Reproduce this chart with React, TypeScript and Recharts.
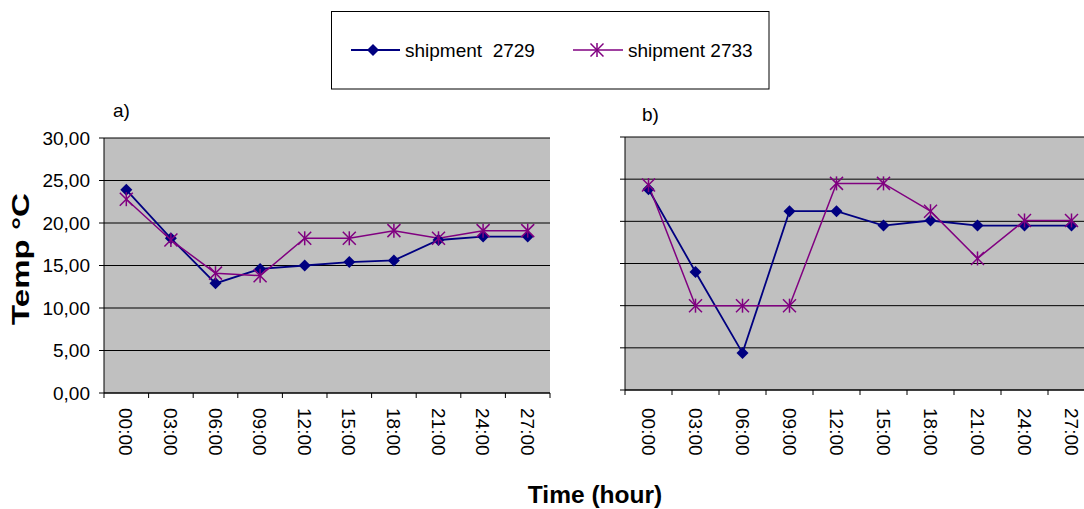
import React from 'react'
import { LineChart, Line, XAxis, YAxis, CartesianGrid } from 'recharts'

const hours = ['00:00', '03:00', '06:00', '09:00', '12:00', '15:00', '18:00', '21:00', '24:00', '27:00']
const yTicks = [0, 5, 10, 15, 20, 25, 30]

// a) panel
const a2729 = [23.9, 18.2, 12.9, 14.6, 15.0, 15.4, 15.6, 18.0, 18.4, 18.4]
const a2733 = [22.8, 18.0, 14.1, 13.8, 18.2, 18.2, 19.1, 18.2, 19.1, 19.1]

// b) panel
const b2729 = [23.8, 14.0, 4.4, 21.2, 21.2, 19.5, 20.1, 19.5, 19.5, 19.5]
const b2733 = [24.3, 10.0, 10.0, 10.0, 24.5, 24.5, 21.2, 15.6, 20.1, 20.1]

const seriesNames = ['shipment  2729', 'shipment 2733']

const BLUE = '#000080'
const PURPLE = '#800080'
const FONT = '"Liberation Sans", Arial, sans-serif'

const buildRows = (s1: number[], s2: number[]) =>
  hours.map((h, i) => ({ hour: h, s2729: s1[i], s2733: s2[i] }))

const Diamond = ({ cx, cy }: { cx: number; cy: number }) => (
  <path d={`M${cx},${cy - 6} L${cx + 6},${cy} L${cx},${cy + 6} L${cx - 6},${cy} Z`} fill={BLUE} />
)

const Star = ({ cx, cy }: { cx: number; cy: number }) => (
  <g stroke={PURPLE} strokeWidth={1.5}>
    <line x1={cx} y1={cy - 7} x2={cx} y2={cy + 7} />
    <line x1={cx - 6.5} y1={cy - 6.5} x2={cx + 6.5} y2={cy + 6.5} />
    <line x1={cx - 6.5} y1={cy + 6.5} x2={cx + 6.5} y2={cy - 6.5} />
  </g>
)

function HourTick(props: any) {
  const { x, y, payload, index, bw, gap } = props
  const off = payload && payload.offset ? payload.offset : bw / 2
  return (
    <g transform={`translate(${x},${y})`}>
      <line x1={-off} x2={-off} y1={0} y2={5} stroke="#000" />
      {index === hours.length - 1 && <line x1={off} x2={off} y1={0} y2={5} stroke="#000" />}
      <text
        transform={`translate(0,${gap}) rotate(90)`}
        dy="0.36em"
        textAnchor="start"
        fontSize={19}
        fontFamily={FONT}
        fill="#000"
      >
        {payload.value}
      </text>
    </g>
  )
}

// y tick: short mark left of the axis, optional label
function TempTick(props: any) {
  const { x, y, payload, showLabels } = props
  return (
    <g>
      <line x1={x + 9} x2={x + 14} y1={y} y2={y} stroke="#000" />
      {showLabels && (
        <text x={x} y={y} dy="0.36em" textAnchor="end" fontSize={19} fontFamily={FONT} fill="#000">
          {payload.value.toFixed(2).replace('.', ',')}
        </text>
      )}
    </g>
  )
}

function Panel({
  rows,
  width,
  marginTop,
  marginRight,
  yWidth,
  xHeight,
  showLabels,
  gap,
}: {
  rows: any[]
  width: number
  marginTop: number
  marginRight: number
  yWidth: number
  xHeight: number
  showLabels: boolean
  gap: number
}) {
  const bw = (width - marginRight - yWidth) / hours.length
  return (
    <LineChart
      width={width}
      height={509}
      data={rows}
      margin={{ top: marginTop, right: marginRight, left: 0, bottom: 0 }}
    >
      <CartesianGrid vertical={false} stroke="#000" fill="#C0C0C0" fillOpacity={1} />
      <XAxis
        dataKey="hour"
        scale="band"
        height={xHeight}
        axisLine={{ stroke: '#000' }}
        tickLine={false}
        tickSize={0}
        tickMargin={0}
        interval={0}
        tick={(p: any) => <HourTick key={p.index} {...p} bw={bw} gap={gap} />}
      />
      <XAxis xAxisId="top" dataKey="hour" scale="band" orientation="top" height={0} axisLine={{ stroke: '#808080' }} tick={false} tickLine={false} />
      <YAxis
        width={yWidth}
        domain={[0, 30]}
        ticks={yTicks}
        interval={0}
        axisLine={{ stroke: '#000' }}
        tickLine={false}
        tickSize={0}
        tickMargin={14}
        tick={(p: any) => <TempTick key={p.index} {...p} showLabels={showLabels} />}
      />
      <YAxis yAxisId="right" orientation="right" width={0} domain={[0, 30]} axisLine={{ stroke: '#808080' }} tick={false} tickLine={false} />
      <Line
        dataKey="s2729"
        stroke={BLUE}
        strokeWidth={1.8}
        isAnimationActive={false}
        dot={(p: any) => <Diamond key={`d${p.index}`} cx={p.cx} cy={p.cy} />}
      />
      <Line
        dataKey="s2733"
        stroke={PURPLE}
        strokeWidth={1.5}
        isAnimationActive={false}
        dot={(p: any) => <Star key={`s${p.index}`} cx={p.cx} cy={p.cy} />}
      />
    </LineChart>
  )
}

export default function App() {
  return (
    <div
      style={{
        position: 'absolute',
        left: 0,
        top: 0,
        width: 1084,
        height: 509,
        overflow: 'hidden',
        background: '#fff',
        fontFamily: FONT,
      }}
    >
      <div style={{ position: 'absolute', left: 0, top: 0 }}>
        <Panel rows={buildRows(a2729, a2733)} width={560} marginTop={138} marginRight={10} yWidth={104} xHeight={116} showLabels gap={15} />
      </div>
      <div style={{ position: 'absolute', left: 560, top: 0 }}>
        <Panel rows={buildRows(b2729, b2733)} width={540} marginTop={137} marginRight={5} yWidth={65} xHeight={119} showLabels={false} gap={18} />
      </div>

      {/* titles and legend */}
      <svg width={1084} height={509} style={{ position: 'absolute', left: 0, top: 0, pointerEvents: 'none' }}>
        <text x={113} y={117} fontSize={19} fontFamily={FONT}>a)</text>
        <text x={642} y={121} fontSize={19} fontFamily={FONT}>b)</text>
        <text x={595} y={503} fontSize={24.5} fontWeight="bold" textAnchor="middle" fontFamily={FONT}>
          Time (hour)
        </text>
        <text
          transform="translate(29,259) rotate(-90)"
          fontSize={24}
          fontWeight="bold"
          textAnchor="middle"
          fontFamily={FONT}
          textLength={132}
          lengthAdjust="spacingAndGlyphs"
        >
          Temp °C
        </text>

        <rect x={331.5} y={11.5} width={437.5} height={77.5} fill="#fff" stroke="#000" />
        <line x1={351} x2={400} y1={50} y2={50} stroke={BLUE} strokeWidth={1.8} />
        <Diamond cx={373} cy={50} />
        <text x={405} y={56.5} fontSize={19} fontFamily={FONT} style={{ whiteSpace: 'pre' }}>
          {seriesNames[0]}
        </text>
        <line x1={573} x2={623} y1={50} y2={50} stroke={PURPLE} strokeWidth={1.5} />
        <Star cx={597} cy={50} />
        <text x={628} y={56.5} fontSize={19} fontFamily={FONT} style={{ whiteSpace: 'pre' }}>
          {seriesNames[1]}
        </text>
      </svg>
    </div>
  )
}
